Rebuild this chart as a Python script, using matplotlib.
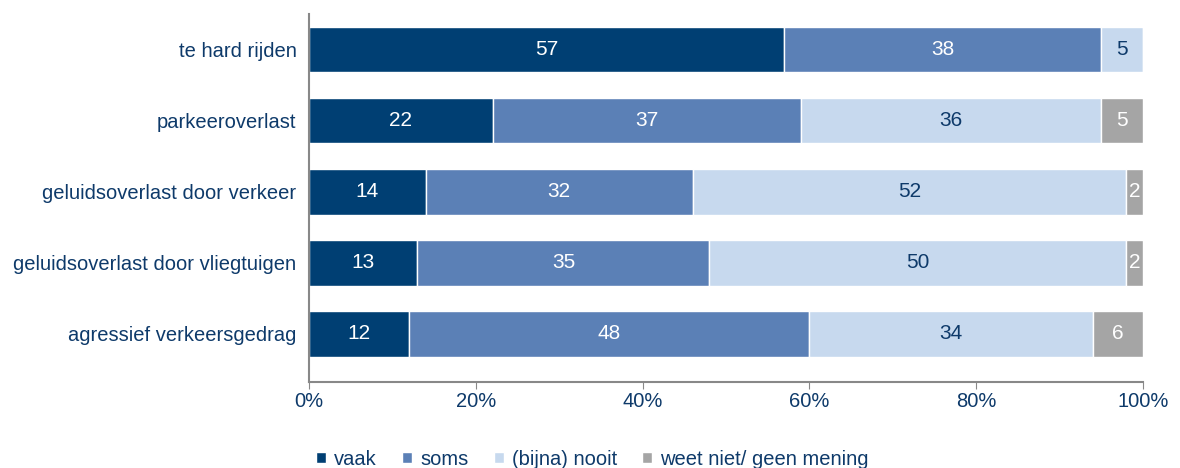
import matplotlib.pyplot as plt
import numpy as np

plt.rcParams['font.family'] = ['Liberation Sans', 'DejaVu Sans']

categories = ['te hard rijden', 'parkeeroverlast', 'geluidsoverlast door verkeer',
              'geluidsoverlast door vliegtuigen', 'agressief verkeersgedrag']
vaak = [57, 22, 14, 13, 12]
soms = [38, 37, 32, 35, 48]
nooit = [5, 36, 52, 50, 34]
weet_niet = [0, 5, 2, 2, 6]

series = [('vaak', vaak, '#003F73', 'white'),
          ('soms', soms, '#5B80B6', 'white'),
          ('(bijna) nooit', nooit, '#C7D9EE', '#0E3A6A'),
          ('weet niet/ geen mening', weet_niet, '#A5A5A5', 'white')]

navy = '#0E3A6A'
fig = plt.figure(figsize=(11.8, 4.68), dpi=100)
ax = fig.add_axes([0.2619, 0.1838, 0.7067, 0.7862])

y = np.arange(len(categories))
left = np.zeros(len(categories))
for name, vals, color, tcol in series:
    vals = np.array(vals, dtype=float)
    ax.barh(y, vals, left=left, height=0.64, color=color, label=name,
            edgecolor='white', linewidth=1)
    for yi, l, v in zip(y, left, vals):
        if v > 0:
            ax.text(l + v / 2, yi, str(int(v)), ha='center', va='center',
                    color=tcol, fontsize=15)
    left += vals

ax.set_xlim(0, 100)
ax.set_ylim(4.675, -0.5)
ax.set_yticks(y)
ax.set_yticklabels(categories, fontsize=14.5, color=navy)
ax.set_xticks(np.arange(0, 101, 20))
ax.set_xticklabels([f'{t}%' for t in range(0, 101, 20)], fontsize=14.5, color=navy)
ax.tick_params(axis='y', length=0, pad=9)
ax.tick_params(axis='x', length=5, color='#888888', direction='out', pad=2)
for s in ['top', 'right']:
    ax.spines[s].set_visible(False)
for s in ['left', 'bottom']:
    ax.spines[s].set_color('#888888')
    ax.spines[s].set_linewidth(1.5)

leg = fig.legend(loc='lower center', bbox_to_anchor=(0.502, -0.04), ncol=4, frameon=False,
                 fontsize=14.5, handlelength=0.5, handleheight=0.45, handletextpad=0.4,
                 columnspacing=1.25)
for t in leg.get_texts():
    t.set_color(navy)

fig.savefig('out.png', dpi=100)
